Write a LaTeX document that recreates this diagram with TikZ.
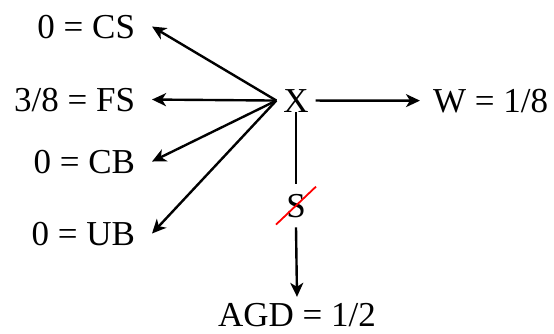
\documentclass[tikz,border=0pt]{standalone}
\usepackage{fontspec}
\setmainfont{Liberation Serif}
\usetikzlibrary{arrows.meta,calc}
\begin{document}
\begin{tikzpicture}[x=1pt,y=-1pt,
  lbl/.style={font=\fontsize{35}{40}\selectfont, inner sep=0pt},
  leftlbl/.style={lbl, anchor=base east, outer xsep=17pt, outer ysep=0pt},
  arr/.style={line width=2.4pt, -{Stealth[length=14pt,width=13pt,inset=4pt]}},
  plain/.style={line width=2.4pt},
  slash/.style={red, line width=1.8pt}]
\useasboundingbox (0,0) rectangle (554,333);
\node[lbl, anchor=base, outer xsep=7pt, outer ysep=0pt] (X) at (296,112) {X};
\node[leftlbl] (CS) at (152,38) {0 = CS};
\node[leftlbl] (FS) at (152,111) {3/8 = FS};
\node[leftlbl] (CB) at (152,173) {0 = CB};
\node[leftlbl] (UB) at (152,245) {0 = UB};
\node[lbl, anchor=base west, outer xsep=13pt] (W) at (420,112) {W = 1/8};
\node[lbl, anchor=base, outer ysep=10pt] (S) at (296,217) {S};
\node[lbl, anchor=base, outer ysep=6pt] (AGD) at (297,326) {AGD = 1/2};
\draw[arr] (X.west) -- (CS.east);
\draw[arr] (X.west) -- (FS.east);
\draw[arr] (X.west) -- (CB.east);
\draw[arr] (X.west) -- (UB.east);
\draw[arr] (X.east) -- (W.west);
\draw[plain] (X.south -| S.north) -- (S.north);
\draw[arr] (S.south) -- (AGD.north);
\draw[slash] ($(S.center)+(-20,19)$) -- ($(S.center)+(20,-19)$);
\end{tikzpicture}
\end{document}
